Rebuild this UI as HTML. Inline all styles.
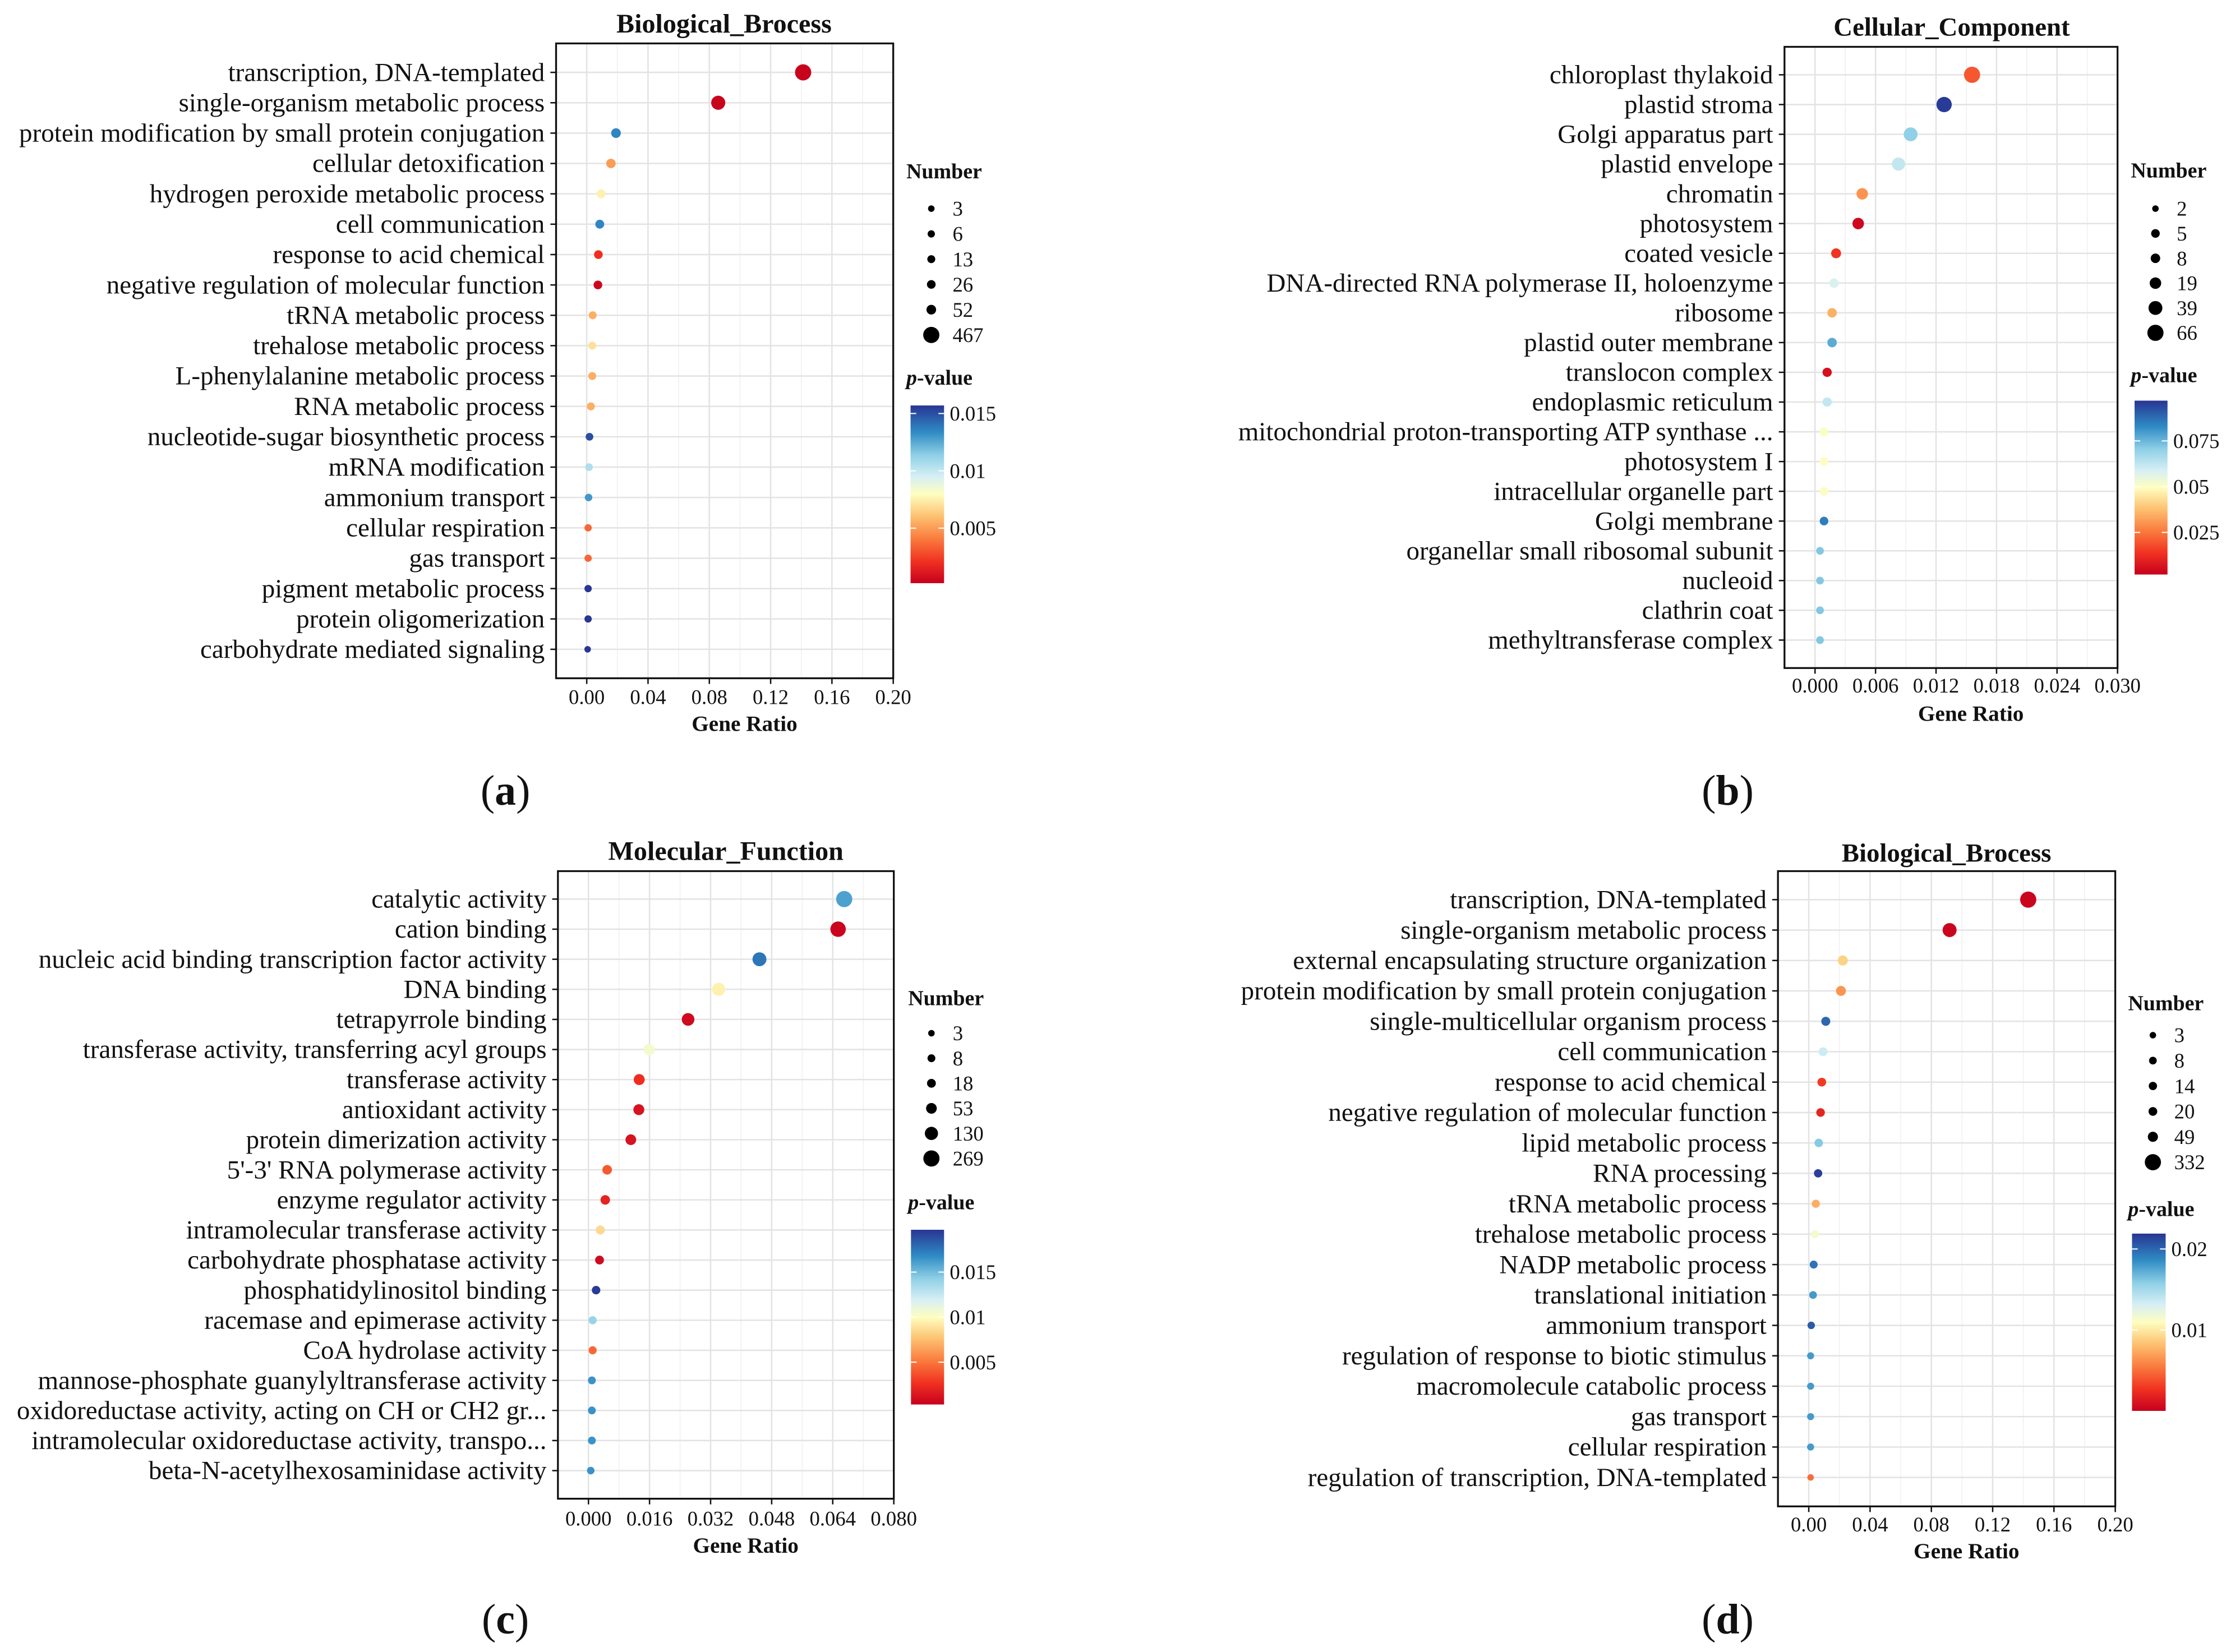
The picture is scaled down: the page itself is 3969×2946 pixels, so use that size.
<!DOCTYPE html>
<html><head><meta charset="utf-8"><style>
html,body{margin:0;padding:0;background:#fff;}
svg{display:block;}
text{font-family:"Liberation Serif","Times New Roman",serif;fill:#111;}
</style></head><body>
<svg id="fig" width="3969" height="2946" viewBox="0 0 1568 1164" preserveAspectRatio="none" xmlns="http://www.w3.org/2000/svg">
<defs>
<linearGradient id="pgrad" x1="0" y1="1" x2="0" y2="0">
<stop offset="0" stop-color="#c6001e"/><stop offset="0.12" stop-color="#f03020"/><stop offset="0.25" stop-color="#fa7b3e"/><stop offset="0.38" stop-color="#fdc373"/><stop offset="0.5" stop-color="#fefec0"/><stop offset="0.6" stop-color="#d6eff5"/><stop offset="0.72" stop-color="#8fd0e6"/><stop offset="0.85" stop-color="#2f8bc4"/><stop offset="1" stop-color="#283593"/>
</linearGradient>
</defs>
</svg>
<script>
// ---------- Panel A data ----------
const aLabels=["transcription, DNA-templated","single-organism metabolic process","protein modification by small protein conjugation","cellular detoxification","hydrogen peroxide metabolic process","cell communication","response to acid chemical","negative regulation of molecular function","tRNA metabolic process","trehalose metabolic process","L-phenylalanine metabolic process","RNA metabolic process","nucleotide-sugar biosynthetic process","mRNA modification","ammonium transport","cellular respiration","gas transport","pigment metabolic process","protein oligomerization","carbohydrate mediated signaling"];
const aRatio=[0.1412,0.0858,0.0191,0.0158,0.0094,0.0085,0.0076,0.0073,0.0039,0.0036,0.0036,0.0027,0.0018,0.0015,0.0012,0.0009,0.0009,0.0009,0.0009,0.0006];
const aPval=[0.0003,0.0003,0.0135,0.005,0.0075,0.0135,0.002,0.0005,0.0055,0.007,0.0055,0.0055,0.015,0.0105,0.013,0.0035,0.0035,0.0157,0.0157,0.0157];
const aCount=[467,290,52,45,30,30,26,26,13,13,13,13,10,10,8,6,6,6,6,3];
const aXTicks=[0,0.04,0.08,0.12,0.16,0.20];
const aXTickLabels=["0.00","0.04","0.08","0.12","0.16","0.20"];
const aSizeLegend=[3,6,13,26,52,467];
const aPTicks=[0.015,0.01,0.005];
const aPTickLabels=["0.015","0.01","0.005"];
// ---------- Panel B data ----------
const bLabels=["chloroplast thylakoid","plastid stroma","Golgi apparatus part","plastid envelope","chromatin","photosystem","coated vesicle","DNA-directed RNA polymerase II, holoenzyme","ribosome","plastid outer membrane","translocon complex","endoplasmic reticulum","mitochondrial proton-transporting ATP synthase ...","photosystem I","intracellular organelle part","Golgi membrane","organellar small ribosomal subunit","nucleoid","clathrin coat","methyltransferase complex"];
const bRatio=[0.01557,0.0128,0.00948,0.00828,0.00468,0.00428,0.00209,0.00188,0.00169,0.00169,0.0012,0.0012,0.00089,0.00089,0.00089,0.00089,0.00049,0.00049,0.00049,0.00049];
const bPval=[0.02,0.096,0.07,0.062,0.03,0.004,0.014,0.058,0.035,0.077,0.006,0.062,0.05,0.05,0.05,0.085,0.072,0.072,0.072,0.072];
const bCount=[66,55,39,33,19,19,10,8,8,8,7,7,5,5,5,5,3,3,3,3];
const bXTicks=[0,0.006,0.012,0.018,0.024,0.030];
const bXTickLabels=["0.000","0.006","0.012","0.018","0.024","0.030"];
const bSizeLegend=[2,5,8,19,39,66];
const bPTicks=[0.075,0.05,0.025];
const bPTickLabels=["0.075","0.05","0.025"];
// ---------- Panel C data ----------
const cLabels=["catalytic activity","cation binding","nucleic acid binding transcription factor activity","DNA binding","tetrapyrrole binding","transferase activity, transferring acyl groups","transferase activity","antioxidant activity","protein dimerization activity","5'-3' RNA polymerase activity","enzyme regulator activity","intramolecular transferase activity","carbohydrate phosphatase activity","phosphatidylinositol binding","racemase and epimerase activity","CoA hydrolase activity","mannose-phosphate guanylyltransferase activity","oxidoreductase activity, acting on CH or CH2 gr...","intramolecular oxidoreductase activity, transpo...","beta-N-acetylhexosaminidase activity"];
const cRatio=[0.0670,0.0654,0.0448,0.0341,0.0261,0.0159,0.0133,0.0132,0.0111,0.0049,0.0044,0.0031,0.0029,0.0020,0.0011,0.0011,0.0009,0.0009,0.0009,0.0006];
const cPval=[0.016,0.0005,0.0175,0.0095,0.0008,0.0105,0.0025,0.0012,0.0012,0.004,0.002,0.0085,0.0008,0.0195,0.014,0.0045,0.0165,0.0165,0.0165,0.0165];
const cCount=[269,230,160,130,110,70,60,58,53,30,28,20,18,14,10,10,8,8,8,6];
const cXTicks=[0,0.016,0.032,0.048,0.064,0.080];
const cXTickLabels=["0.000","0.016","0.032","0.048","0.064","0.080"];
const cSizeLegend=[3,8,18,53,130,269];
const cPTicks=[0.015,0.01,0.005];
const cPTickLabels=["0.015","0.01","0.005"];
// ---------- Panel D data ----------
const dLabels=["transcription, DNA-templated","single-organism metabolic process","external encapsulating structure organization","protein modification by small protein conjugation","single-multicellular organism process","cell communication","response to acid chemical","negative regulation of molecular function","lipid metabolic process","RNA processing","tRNA metabolic process","trehalose metabolic process","NADP metabolic process","translational initiation","ammonium transport","regulation of response to biotic stimulus","macromolecule catabolic process","gas transport","cellular respiration","regulation of transcription, DNA-templated"];
const dRatio=[0.1432,0.0919,0.0222,0.0210,0.0111,0.0093,0.0085,0.0077,0.0065,0.0061,0.0046,0.0040,0.0032,0.0028,0.0016,0.0012,0.0012,0.0012,0.0012,0.0012];
const dPval=[0.0003,0.0003,0.009,0.0065,0.020,0.0135,0.003,0.002,0.016,0.0215,0.0075,0.0115,0.0195,0.018,0.0205,0.018,0.018,0.018,0.018,0.005];
const dCount=[332,200,49,45,25,22,20,18,16,14,12,10,10,8,6,4,4,4,4,3];
const dXTicks=[0,0.04,0.08,0.12,0.16,0.20];
const dXTickLabels=["0.00","0.04","0.08","0.12","0.16","0.20"];
const dSizeLegend=[3,8,14,20,49,332];
const dPTicks=[0.02,0.01];
const dPTickLabels=["0.02","0.01"];

const NS="http://www.w3.org/2000/svg";
const svg=document.getElementById('fig');
function mk(tag,attrs,parent,txt){const e=document.createElementNS(NS,tag);for(const k in attrs)e.setAttribute(k,attrs[k]);if(txt!==undefined)e.textContent=txt;(parent||svg).appendChild(e);return e;}
const stops=[[0,[198,0,30]],[0.12,[240,48,32]],[0.25,[250,123,62]],[0.38,[253,195,115]],[0.5,[254,254,192]],[0.6,[214,239,245]],[0.72,[143,208,230]],[0.85,[47,139,196]],[1,[40,53,147]]];
function colorAt(t){t=Math.max(0,Math.min(1,t));for(let i=1;i<stops.length;i++){if(t<=stops[i][0]){const a=stops[i-1],b=stops[i];const f=(t-a[0])/(b[0]-a[0]);const c=a[1].map((v,j)=>Math.round(v+(b[1][j]-v)*f));return `rgb(${c[0]},${c[1]},${c[2]})`;}}return 'rgb(40,53,147)';}

function panel(cfg){
  const g=mk('g',{});
  
  
  const L=cfg.box[0],R=cfg.box[1],T=cfg.box[2],B=cfg.box[3];
  const xs=v=>L+(v-cfg.xdom[0])/(cfg.xdom[1]-cfg.xdom[0])*(R-L);
  const n=cfg.labels.length;
  const ys=i=>cfg.rowFirst+i*(cfg.rowLast-cfg.rowFirst)/(n-1);
  for(let i=0;i<cfg.ticks.length-1;i++){const m=(cfg.ticks[i]+cfg.ticks[i+1])/2;mk('line',{x1:xs(m),x2:xs(m),y1:T,y2:B,stroke:'#f0f0f0','stroke-width':0.6},g);}
  for(const v of cfg.ticks){const gl=mk('line',{x1:xs(v),x2:xs(v),y1:T,y2:B,stroke:'#e3e3e3','stroke-width':1},g);}
  for(let i=0;i<n;i++){mk('line',{x1:L,x2:R,y1:ys(i),y2:ys(i),stroke:'#e3e3e3','stroke-width':1},g);}
  const cmin=Math.min(...cfg.sizeLegend),cmax=Math.max(...cfg.sizeLegend);
  const rs=c=>2.3+3.4*Math.sqrt(Math.max(0,(c-cmin)/(cmax-cmin)));
  const ps=p=>(p-cfg.pdom[0])/(cfg.pdom[1]-cfg.pdom[0]);
  for(let i=0;i<n;i++){
    const d=mk('circle',{cx:xs(cfg.ratio[i]),cy:ys(i),r:rs(cfg.count[i]),fill:colorAt(ps(cfg.pval[i]))},g);
    
    
  }
  const bx=mk('rect',{x:L,y:T,width:R-L,height:B-T,fill:'none',stroke:'#111','stroke-width':1.3},g);
  
  for(let i=0;i<n;i++){
    mk('line',{x1:L-4,x2:L,y1:ys(i),y2:ys(i),stroke:'#111','stroke-width':1},g);
    const t=mk('text',{x:L-8,y:ys(i)+6,'text-anchor':'end','font-size':18.6},g,cfg.labels[i]);
    
  }
  cfg.ticks.forEach((v,i)=>{
    mk('line',{x1:xs(v),x2:xs(v),y1:B,y2:B+4,stroke:'#111','stroke-width':1},g);
    const t=mk('text',{x:xs(v),y:cfg.xlabY,'text-anchor':'middle','font-size':14.5},g,cfg.tickLabels[i]);
    
  });
  const xt=mk('text',{x:(L+R)/2+14,y:cfg.xTitleY,'text-anchor':'middle','font-size':15.5,'font-weight':'bold'},g,'Gene Ratio');
  
  const tt=mk('text',{x:cfg.titleX,y:cfg.titleY,'text-anchor':'middle','font-size':cfg.titleSize,'font-weight':'bold'},g,cfg.title);
  
  const lg=mk('g',{},g);
  mk('text',{x:cfg.legX,y:cfg.numY+5,'font-size':15,'font-weight':'bold'},lg,'Number');
  cfg.sizeLegend.forEach((c,i)=>{
    const y=cfg.sizeY0+i*cfg.sizeStep;
    const e=mk('circle',{cx:cfg.dotX,cy:y,r:rs(c),fill:'#000'},lg);
    
    mk('text',{x:cfg.dotX+15,y:y+5,'font-size':14.5},lg,String(c));
  });
  const cg=mk('g',{},g);
  const pt=mk('text',{x:cfg.legX,y:cfg.pTitleY+5,'font-size':15,'font-weight':'bold'},cg);
  mk('tspan',{'font-style':'italic'},pt,'p');mk('tspan',{},pt,'-value');
  const [cx0,cx1,cy0,cy1]=cfg.cbar;
  mk('rect',{x:cx0,y:cy0,width:cx1-cx0,height:cy1-cy0,fill:'url(#pgrad)'},cg);
  const py=p=>cy1-(p-cfg.pdom[0])/(cfg.pdom[1]-cfg.pdom[0])*(cy1-cy0);
  cfg.pTicks.forEach((p,i)=>{
    mk('line',{x1:cx0,x2:cx0+4,y1:py(p),y2:py(p),stroke:'#fff','stroke-width':0.8},cg);
    mk('line',{x1:cx1-4,x2:cx1,y1:py(p),y2:py(p),stroke:'#fff','stroke-width':0.8},cg);
    mk('text',{x:cx1+4,y:py(p)+5,'font-size':14.5},cg,cfg.pTickLabels[i]);
  });
  const pl=mk('text',{x:cfg.panelLabelX,y:cfg.panelLabelY,'text-anchor':'middle','font-size':30},g);
  
  mk('tspan',{},pl,'(');mk('tspan',{'font-weight':'bold'},pl,cfg.letter);mk('tspan',{},pl,')');
}

panel({name:'panel-a',title:'Biological_Brocess',titleSize:19,letter:'a',labels:aLabels,ratio:aRatio,pval:aPval,count:aCount,ticks:aXTicks,tickLabels:aXTickLabels,sizeLegend:aSizeLegend,pTicks:aPTicks,pTickLabels:aPTickLabels,
 box:[391.7,629.2,30.6,477.9],xdom:[-0.02,0.20],rowFirst:51,rowLast:457.5,xlabY:496,xTitleY:515,titleX:510,titleY:23,
 legX:638.4,numY:120.7,sizeY0:147,sizeStep:17.8,dotX:656,pTitleY:266,cbar:[641.4,665,285.7,410.9],pdom:[0.0002,0.0157],panelLabelX:356,panelLabelY:567});
panel({name:'panel-b',title:'Cellular_Component',titleSize:18.5,letter:'b',labels:bLabels,ratio:bRatio,pval:bPval,count:bCount,ticks:bXTicks,tickLabels:bXTickLabels,sizeLegend:bSizeLegend,pTicks:bPTicks,pTickLabels:bPTickLabels,
 box:[1257,1491.6,33,470.7],xdom:[-0.00303,0.030],rowFirst:52.7,rowLast:451,xlabY:488,xTitleY:508,titleX:1374.8,titleY:25,
 legX:1501,numY:120,sizeY0:147,sizeStep:17.5,dotX:1518.3,pTitleY:264.3,cbar:[1503.6,1526.8,282.3,404.8],pdom:[0.002,0.097],panelLabelX:1217,panelLabelY:567});
panel({name:'panel-c',title:'Molecular_Function',titleSize:19,letter:'c',labels:cLabels,ratio:cRatio,pval:cPval,count:cCount,ticks:cXTicks,tickLabels:cXTickLabels,sizeLegend:cSizeLegend,pTicks:cPTicks,pTickLabels:cPTickLabels,
 box:[393,629.6,613.8,1056],xdom:[-0.008,0.080],rowFirst:633.5,rowLast:1036.2,xlabY:1075,xTitleY:1094,titleX:511.3,titleY:606,
 legX:639.7,numY:703.2,sizeY0:728,sizeStep:17.65,dotX:656.1,pTitleY:847.1,cbar:[641.7,665,866.5,989.6],pdom:[0.0003,0.0197],panelLabelX:356,panelLabelY:1151});
panel({name:'panel-d',title:'Biological_Brocess',titleSize:18.5,letter:'d',labels:dLabels,ratio:dRatio,pval:dPval,count:dCount,ticks:dXTicks,tickLabels:dXTickLabels,sizeLegend:dSizeLegend,pTicks:dPTicks,pTickLabels:dPTickLabels,
 box:[1252.4,1490,613.8,1061.4],xdom:[-0.0201,0.20],rowFirst:633.9,rowLast:1041,xlabY:1079,xTitleY:1098,titleX:1371.1,titleY:607,
 legX:1499,numY:706.7,sizeY0:729.4,sizeStep:17.9,dotX:1516.5,pTitleY:851.9,cbar:[1501.8,1525.5,869.2,994.1],pdom:[0,0.0219],panelLabelX:1217,panelLabelY:1151});
</script>
</body></html>
